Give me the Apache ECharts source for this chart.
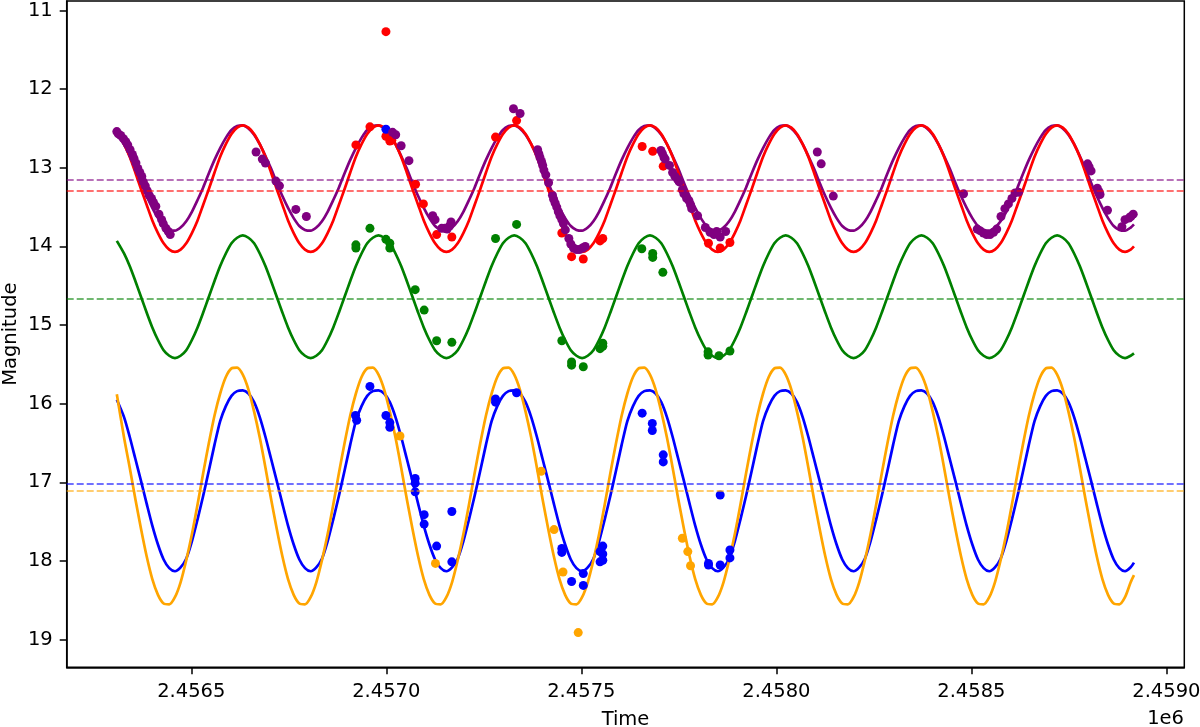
<!DOCTYPE html>
<html>
<head>
<meta charset="utf-8">
<script src="https://cdn.jsdelivr.net/npm/echarts@6/dist/echarts.min.js"></script>
<style>
  html, body { margin: 0; padding: 0; background: #fff; }
  #main { width: 1200px; height: 727px; }
</style>
</head>
<body>
<div id="main"></div>
<script>
const xTicks = [2456500, 2457000, 2457500, 2458000, 2458500, 2459000];
const yTicks = [11, 12, 13, 14, 15, 16, 17, 18, 19];

// model curves
const curveTimes = [
  2456309, 2456327.5, 2456342, 2456356.5, 2456371, 2456385.5, 2456400, 2456414.5, 2456429, 2456443.5, 2456458,
  2456472.5, 2456487, 2456501.5, 2456516, 2456530.5, 2456545, 2456559.5, 2456574, 2456588.5, 2456603, 2456617.5,
  2456632, 2456646.5, 2456661, 2456675.5, 2456690, 2456704.5, 2456719, 2456733.5, 2456748, 2456762.5, 2456777, 2456791.5,
  2456806, 2456820.5, 2456835, 2456849.5, 2456864, 2456878.5, 2456893, 2456907.5, 2456922, 2456936.5, 2456951, 2456965.5,
  2456980, 2456994.5, 2457009, 2457023.5, 2457038, 2457052.5, 2457067, 2457081.5, 2457096, 2457110.5, 2457125, 2457139.5,
  2457154, 2457168.5, 2457183, 2457197.5, 2457212, 2457226.5, 2457241, 2457255.5, 2457270, 2457284.5, 2457299, 2457313.5,
  2457328, 2457342.5, 2457357, 2457371.5, 2457386, 2457400.5, 2457415, 2457429.5, 2457444, 2457458.5, 2457473, 2457487.5,
  2457502, 2457516.5, 2457531, 2457545.5, 2457560, 2457574.5, 2457589, 2457603.5, 2457618, 2457632.5, 2457647, 2457661.5,
  2457676, 2457690.5, 2457705, 2457719.5, 2457734, 2457748.5, 2457763, 2457777.5, 2457792, 2457806.5, 2457821, 2457835.5,
  2457850, 2457864.5, 2457879, 2457893.5, 2457908, 2457922.5, 2457937, 2457951.5, 2457966, 2457980.5, 2457995, 2458009.5,
  2458024, 2458038.5, 2458053, 2458067.5, 2458082, 2458096.5, 2458111, 2458125.5, 2458140, 2458154.5, 2458169, 2458183.5,
  2458198, 2458212.5, 2458227, 2458241.5, 2458256, 2458270.5, 2458285, 2458299.5, 2458314, 2458328.5, 2458343, 2458357.5,
  2458372, 2458386.5, 2458401, 2458415.5, 2458430, 2458444.5, 2458459, 2458473.5, 2458488, 2458502.5, 2458517, 2458531.5,
  2458546, 2458560.5, 2458575, 2458589.5, 2458604, 2458618.5, 2458633, 2458647.5, 2458662, 2458676.5, 2458691, 2458705.5,
  2458720, 2458734.5, 2458749, 2458763.5, 2458778, 2458792.5, 2458807, 2458821.5, 2458836, 2458850.5, 2458865, 2458879.5,
  2458894, 2458908.5, 2458917
];
const redCurve = [
  12.54, 12.70, 12.86, 13.06, 13.27, 13.47, 13.67, 13.83, 13.96, 14.04, 14.07, 14.04, 13.96, 13.83, 13.67, 13.47, 13.27, 13.06, 12.86, 12.70, 12.57, 12.49,
  12.46, 12.49, 12.57, 12.70, 12.86, 13.06, 13.27, 13.47, 13.67, 13.83, 13.96, 14.04, 14.07, 14.04, 13.96, 13.83, 13.67, 13.47, 13.27, 13.06, 12.86, 12.70, 12.57, 12.49,
  12.46, 12.49, 12.57, 12.70, 12.86, 13.06, 13.27, 13.47, 13.67, 13.83, 13.96, 14.04, 14.07, 14.04, 13.96, 13.83, 13.67, 13.47, 13.27, 13.06, 12.86, 12.70, 12.57, 12.49,
  12.46, 12.49, 12.57, 12.70, 12.86, 13.06, 13.27, 13.47, 13.67, 13.83, 13.96, 14.04, 14.07, 14.04, 13.96, 13.83, 13.67, 13.47, 13.27, 13.06, 12.86, 12.70, 12.57, 12.49,
  12.46, 12.49, 12.57, 12.70, 12.86, 13.06, 13.27, 13.47, 13.67, 13.83, 13.96, 14.04, 14.07, 14.04, 13.96, 13.83, 13.67, 13.47, 13.27, 13.06, 12.86, 12.70, 12.57, 12.49,
  12.46, 12.49, 12.57, 12.70, 12.86, 13.06, 13.27, 13.47, 13.67, 13.83, 13.96, 14.04, 14.07, 14.04, 13.96, 13.83, 13.67, 13.47, 13.27, 13.06, 12.86, 12.70, 12.57, 12.49,
  12.46, 12.49, 12.57, 12.70, 12.86, 13.06, 13.27, 13.47, 13.67, 13.83, 13.96, 14.04, 14.07, 14.04, 13.96, 13.83, 13.67, 13.47, 13.27, 13.06, 12.86, 12.70, 12.57, 12.49,
  12.46, 12.49, 12.57, 12.70, 12.86, 13.06, 13.27, 13.47, 13.67, 13.83, 13.96, 14.04, 14.07, 14.04, 14.00
];
const purpleCurve = [
  12.54, 12.70, 12.85, 13.01, 13.19, 13.36, 13.51, 13.64, 13.74, 13.79, 13.80, 13.76, 13.68, 13.56, 13.41, 13.25, 13.07, 12.90, 12.75, 12.62, 12.52, 12.47,
  12.46, 12.50, 12.58, 12.70, 12.85, 13.01, 13.19, 13.36, 13.51, 13.64, 13.74, 13.79, 13.80, 13.76, 13.68, 13.56, 13.41, 13.25, 13.07, 12.90, 12.75, 12.62, 12.52, 12.47,
  12.46, 12.50, 12.58, 12.70, 12.85, 13.01, 13.19, 13.36, 13.51, 13.64, 13.74, 13.79, 13.80, 13.76, 13.68, 13.56, 13.41, 13.25, 13.07, 12.90, 12.75, 12.62, 12.52, 12.47,
  12.46, 12.50, 12.58, 12.70, 12.85, 13.01, 13.19, 13.36, 13.51, 13.64, 13.74, 13.79, 13.80, 13.76, 13.68, 13.56, 13.41, 13.25, 13.07, 12.90, 12.75, 12.62, 12.52, 12.47,
  12.46, 12.50, 12.58, 12.70, 12.85, 13.01, 13.19, 13.36, 13.51, 13.64, 13.74, 13.79, 13.80, 13.76, 13.68, 13.56, 13.41, 13.25, 13.07, 12.90, 12.75, 12.62, 12.52, 12.47,
  12.46, 12.50, 12.58, 12.70, 12.85, 13.01, 13.19, 13.36, 13.51, 13.64, 13.74, 13.79, 13.80, 13.76, 13.68, 13.56, 13.41, 13.25, 13.07, 12.90, 12.75, 12.62, 12.52, 12.47,
  12.46, 12.50, 12.58, 12.70, 12.85, 13.01, 13.19, 13.36, 13.51, 13.64, 13.74, 13.79, 13.80, 13.76, 13.68, 13.56, 13.41, 13.25, 13.07, 12.90, 12.75, 12.62, 12.52, 12.47,
  12.46, 12.50, 12.58, 12.70, 12.85, 13.01, 13.19, 13.36, 13.51, 13.64, 13.74, 13.79, 13.80, 13.76, 13.72
];
const greenCurve = [
  13.93, 14.09, 14.25, 14.44, 14.64, 14.84, 15.03, 15.19, 15.32, 15.39, 15.42, 15.39, 15.32, 15.19, 15.03, 14.84, 14.64, 14.44, 14.25, 14.09, 13.96, 13.89,
  13.86, 13.89, 13.96, 14.09, 14.25, 14.44, 14.64, 14.84, 15.03, 15.19, 15.32, 15.39, 15.42, 15.39, 15.32, 15.19, 15.03, 14.84, 14.64, 14.44, 14.25, 14.09, 13.96, 13.89,
  13.86, 13.89, 13.96, 14.09, 14.25, 14.44, 14.64, 14.84, 15.03, 15.19, 15.32, 15.39, 15.42, 15.39, 15.32, 15.19, 15.03, 14.84, 14.64, 14.44, 14.25, 14.09, 13.96, 13.89,
  13.86, 13.89, 13.96, 14.09, 14.25, 14.44, 14.64, 14.84, 15.03, 15.19, 15.32, 15.39, 15.42, 15.39, 15.32, 15.19, 15.03, 14.84, 14.64, 14.44, 14.25, 14.09, 13.96, 13.89,
  13.86, 13.89, 13.96, 14.09, 14.25, 14.44, 14.64, 14.84, 15.03, 15.19, 15.32, 15.39, 15.42, 15.39, 15.32, 15.19, 15.03, 14.84, 14.64, 14.44, 14.25, 14.09, 13.96, 13.89,
  13.86, 13.89, 13.96, 14.09, 14.25, 14.44, 14.64, 14.84, 15.03, 15.19, 15.32, 15.39, 15.42, 15.39, 15.32, 15.19, 15.03, 14.84, 14.64, 14.44, 14.25, 14.09, 13.96, 13.89,
  13.86, 13.89, 13.96, 14.09, 14.25, 14.44, 14.64, 14.84, 15.03, 15.19, 15.32, 15.39, 15.42, 15.39, 15.32, 15.19, 15.03, 14.84, 14.64, 14.44, 14.25, 14.09, 13.96, 13.89,
  13.86, 13.89, 13.96, 14.09, 14.25, 14.44, 14.64, 14.84, 15.03, 15.19, 15.32, 15.39, 15.42, 15.39, 15.36
];
const blueCurve = [
  15.95, 16.17, 16.42, 16.70, 16.98, 17.27, 17.55, 17.79, 17.98, 18.09, 18.13, 18.08, 17.97, 17.75, 17.47, 17.17, 16.85, 16.52, 16.22, 16.03, 15.90, 15.84,
  15.83, 15.87, 15.98, 16.17, 16.42, 16.70, 16.98, 17.27, 17.55, 17.79, 17.98, 18.09, 18.13, 18.08, 17.97, 17.75, 17.47, 17.17, 16.85, 16.52, 16.22, 16.03, 15.90, 15.84,
  15.83, 15.87, 15.98, 16.17, 16.42, 16.70, 16.98, 17.27, 17.55, 17.79, 17.98, 18.09, 18.13, 18.08, 17.97, 17.75, 17.47, 17.17, 16.85, 16.52, 16.22, 16.03, 15.90, 15.84,
  15.83, 15.87, 15.98, 16.17, 16.42, 16.70, 16.98, 17.27, 17.55, 17.79, 17.98, 18.09, 18.13, 18.08, 17.97, 17.75, 17.47, 17.17, 16.85, 16.52, 16.22, 16.03, 15.90, 15.84,
  15.83, 15.87, 15.98, 16.17, 16.42, 16.70, 16.98, 17.27, 17.55, 17.79, 17.98, 18.09, 18.13, 18.08, 17.97, 17.75, 17.47, 17.17, 16.85, 16.52, 16.22, 16.03, 15.90, 15.84,
  15.83, 15.87, 15.98, 16.17, 16.42, 16.70, 16.98, 17.27, 17.55, 17.79, 17.98, 18.09, 18.13, 18.08, 17.97, 17.75, 17.47, 17.17, 16.85, 16.52, 16.22, 16.03, 15.90, 15.84,
  15.83, 15.87, 15.98, 16.17, 16.42, 16.70, 16.98, 17.27, 17.55, 17.79, 17.98, 18.09, 18.13, 18.08, 17.97, 17.75, 17.47, 17.17, 16.85, 16.52, 16.22, 16.03, 15.90, 15.84,
  15.83, 15.87, 15.98, 16.17, 16.42, 16.70, 16.98, 17.27, 17.55, 17.79, 17.98, 18.09, 18.13, 18.08, 18.02
];
const orangeCurve = [
  15.88, 16.43, 16.81, 17.21, 17.59, 17.94, 18.23, 18.43, 18.54, 18.55, 18.46, 18.27, 17.99, 17.66, 17.28, 16.88, 16.50, 16.15, 15.87, 15.66, 15.55, 15.54,
  15.63, 15.82, 16.10, 16.43, 16.81, 17.21, 17.59, 17.94, 18.23, 18.43, 18.54, 18.55, 18.46, 18.27, 17.99, 17.66, 17.28, 16.88, 16.50, 16.15, 15.87, 15.66, 15.55, 15.54,
  15.63, 15.82, 16.10, 16.43, 16.81, 17.21, 17.59, 17.94, 18.23, 18.43, 18.54, 18.55, 18.46, 18.27, 17.99, 17.66, 17.28, 16.88, 16.50, 16.15, 15.87, 15.66, 15.55, 15.54,
  15.63, 15.82, 16.10, 16.43, 16.81, 17.21, 17.59, 17.94, 18.23, 18.43, 18.54, 18.55, 18.46, 18.27, 17.99, 17.66, 17.28, 16.88, 16.50, 16.15, 15.87, 15.66, 15.55, 15.54,
  15.63, 15.82, 16.10, 16.43, 16.81, 17.21, 17.59, 17.94, 18.23, 18.43, 18.54, 18.55, 18.46, 18.27, 17.99, 17.66, 17.28, 16.88, 16.50, 16.15, 15.87, 15.66, 15.55, 15.54,
  15.63, 15.82, 16.10, 16.43, 16.81, 17.21, 17.59, 17.94, 18.23, 18.43, 18.54, 18.55, 18.46, 18.27, 17.99, 17.66, 17.28, 16.88, 16.50, 16.15, 15.87, 15.66, 15.55, 15.54,
  15.63, 15.82, 16.10, 16.43, 16.81, 17.21, 17.59, 17.94, 18.23, 18.43, 18.54, 18.55, 18.46, 18.27, 17.99, 17.66, 17.28, 16.88, 16.50, 16.15, 15.87, 15.66, 15.55, 15.54,
  15.63, 15.82, 16.10, 16.43, 16.81, 17.21, 17.59, 17.94, 18.23, 18.43, 18.54, 18.55, 18.46, 18.27, 18.18
];

// mean magnitudes (dashed lines)
const purpleMean = 13.15;
const redMean = 13.29;
const greenMean = 14.67;
const blueMean = 17.02;
const orangeMean = 17.11;

// observations
const purpleTimes = [
  2456309, 2456313, 2456319, 2456326, 2456332, 2456337, 2456343, 2456349, 2456353, 2456358, 2456363, 2456368, 2456373,
  2456377, 2456382, 2456387, 2456392, 2456398, 2456403, 2456409, 2456417, 2456424, 2456428, 2456435, 2456441, 2456446,
  2456666, 2456682, 2456690, 2456717, 2456726, 2456768, 2456795,
  2457016, 2457024, 2457038, 2457058, 2457119, 2457125, 2457142, 2457150, 2457156, 2457162, 2457166,
  2457326, 2457343,
  2457388, 2457391, 2457394, 2457398, 2457401, 2457404, 2457409, 2457416, 2457426, 2457429, 2457433, 2457437, 2457441,
  2457445, 2457450, 2457454, 2457459, 2457468, 2457473, 2457480, 2457488, 2457495, 2457503, 2457510,
  2457704, 2457708, 2457712, 2457715, 2457726, 2457734, 2457740, 2457747, 2457751, 2457759, 2457763, 2457770, 2457776,
  2457780, 2457783, 2457798, 2457818, 2457830, 2457840, 2457847, 2457856, 2457870,
  2458105, 2458115, 2458146,
  2458480, 2458515, 2458522, 2458531, 2458539, 2458548, 2458557, 2458565, 2458576, 2458586, 2458595, 2458604, 2458612, 2458621,
  2458798, 2458802, 2458807, 2458823, 2458827, 2458830, 2458849, 2458886, 2458894, 2458904, 2458909, 2458915
];
const purpleMags = [
  12.54, 12.57, 12.59, 12.63, 12.67, 12.71, 12.77, 12.83, 12.88, 12.94, 13.01, 13.06, 13.11,
  13.18, 13.23, 13.29, 13.35, 13.39, 13.44, 13.49, 13.59, 13.66, 13.71, 13.77, 13.81, 13.85,
  12.80, 12.89, 12.94, 13.17, 13.23, 13.53, 13.62,
  12.55, 12.58, 12.72, 12.91, 13.61, 13.66, 13.77, 13.77, 13.78, 13.74, 13.69,
  12.25, 12.31,
  12.77, 12.82, 12.87, 12.92, 12.97, 13.03, 13.09, 13.19, 13.35, 13.40, 13.45, 13.50, 13.56,
  13.61, 13.66, 13.71, 13.79, 13.90, 13.97, 14.02, 14.04, 14.04, 14.02, 14.00,
  12.78, 12.82, 12.87, 12.89, 12.97, 13.06, 13.11, 13.15, 13.18, 13.28, 13.33, 13.39, 13.42,
  13.47, 13.52, 13.61, 13.76, 13.82, 13.85, 13.81, 13.88, 13.81,
  12.80, 12.95, 13.36,
  13.33, 13.78, 13.80, 13.83, 13.85, 13.85, 13.82, 13.78, 13.62, 13.52, 13.46, 13.39, 13.32, 13.31,
  12.95, 12.99, 13.04, 13.26, 13.30, 13.34, 13.54, 13.75, 13.66, 13.64, 13.62, 13.59
];
const redTimes = [
  2456999, 2456922, 2456958, 2456999, 2457009, 2457014, 2457075, 2457095, 2457129, 2457168,
  2457280, 2457334, 2457450, 2457475, 2457505, 2457548, 2457555,
  2457656, 2457683, 2457710, 2457826, 2457856, 2457881
];
const redMags = [
  11.27, 12.71, 12.48, 12.60, 12.66, 12.65, 13.21, 13.46, 13.85, 13.88,
  12.61, 12.40, 13.83, 14.13, 14.16, 13.93, 13.90,
  12.73, 12.79, 12.98, 13.96, 14.02, 13.95
];
const greenTimes = [
  2456922, 2456922, 2456958, 2456999, 2457009, 2457009, 2457074, 2457097, 2457129, 2457168,
  2457280, 2457334, 2457450, 2457475, 2457475, 2457505, 2457548, 2457555, 2457555,
  2457655, 2457683, 2457683, 2457709, 2457825, 2457825, 2457853, 2457881
];
const greenMags = [
  13.98, 14.02, 13.77, 13.91, 13.96, 14.02, 14.55, 14.81, 15.20, 15.22,
  13.90, 13.72, 15.20, 15.47, 15.51, 15.53, 15.30, 15.23, 15.27,
  14.03, 14.09, 14.14, 14.33, 15.34, 15.38, 15.39, 15.33
];
const blueTimes = [
  2456999, 2456921, 2456924, 2456958, 2456999, 2457009, 2457009, 2457074, 2457074, 2457074, 2457097, 2457097,
  2457129, 2457168, 2457168, 2457280, 2457280, 2457334, 2457450, 2457450, 2457475, 2457505, 2457505,
  2457548, 2457555, 2457555, 2457548, 2457555,
  2457656, 2457682, 2457682, 2457710, 2457710, 2457856, 2457826, 2457826, 2457856, 2457881, 2457881
];
const blueMags = [
  12.51, 16.15, 16.21, 15.78, 16.15, 16.24, 16.30, 16.95, 17.01, 17.12, 17.41, 17.53,
  17.81, 17.37, 18.01, 15.94, 15.98, 15.86, 17.84, 17.89, 18.26, 18.16, 18.31,
  17.88, 17.81, 17.91, 18.01, 17.99,
  16.12, 16.25, 16.34, 16.65, 16.74, 17.16, 18.03, 18.05, 18.05, 17.86, 17.96
];
const orangeTimes = [2457035, 2457126, 2457397, 2457430, 2457453, 2457492, 2457759, 2457773, 2457780];
const orangeMags = [16.41, 18.03, 16.86, 17.60, 18.14, 18.91, 17.71, 17.88, 18.06];

const zip = (xs, ys) => xs.map((x, i) => [x, ys[i]]);

const curve = (color, times, mags, mean) => ({
  type: 'line',
  data: zip(times, mags),
  smooth: 0.25,
  smoothConstraint: false,
  showSymbol: false,
  symbol: 'none',
  z: 2,
  lineStyle: { color: color, width: 2.7, join: 'round' },
  markLine: {
    silent: true,
    symbol: 'none',
    label: { show: false },
    lineStyle: { color: color, type: [7, 3], width: 1.7, opacity: 0.75 },
    data: [{ yAxis: mean }],
  },
});

const dots = (color, times, mags) => ({
  type: 'scatter',
  data: zip(times, mags),
  symbolSize: 9,
  z: 3,
  itemStyle: { color: color, opacity: 1 },
});

const font = 'DejaVu Sans';

const option = {
  animation: false,
  grid: {
    left: 66.7,
    right: 15.7,
    top: 1,
    bottom: 59.7,
    show: true,
    borderColor: '#000',
    borderWidth: 1.5,
    outerBoundsMode: 'none',
  },
  xAxis: {
    type: 'value',
    min: 2456180.5,
    max: 2459046,
    name: 'Time',
    nameLocation: 'middle',
    nameGap: 43,
    nameMoveOverlap: false,
    nameTextStyle: { color: '#000', fontFamily: font, fontSize: 19.5 },
    splitLine: { show: false },
    axisLine: { lineStyle: { color: '#000', width: 1.5 } },
    axisTick: { customValues: xTicks, length: 7, lineStyle: { color: '#000', width: 1.5 } },
    axisLabel: {
      customValues: xTicks,
      color: '#000',
      fontFamily: font,
      fontSize: 19.5,
      margin: 15,
      formatter: (v) => (v / 1e6).toFixed(4),
    },
  },
  yAxis: {
    type: 'value',
    inverse: true,
    min: 10.88,
    max: 19.351,
    name: 'Magnitude',
    nameLocation: 'middle',
    nameGap: 46,
    nameMoveOverlap: false,
    nameTextStyle: { color: '#000', fontFamily: font, fontSize: 19.5 },
    splitLine: { show: false },
    axisLine: { lineStyle: { color: '#000', width: 1.5 } },
    axisTick: { customValues: yTicks, length: 7, lineStyle: { color: '#000', width: 1.5 } },
    axisLabel: { customValues: yTicks, color: '#000', fontFamily: font, fontSize: 19.5, margin: 14 },
  },
  graphic: [
    {
      type: 'text',
      right: 16,
      top: 709,
      style: { text: '1e6', fill: '#000', font: '19.5px "DejaVu Sans"' },
    },
  ],
  series: [
    curve('#800080', curveTimes, purpleCurve, purpleMean),
    curve('#ff0000', curveTimes, redCurve, redMean),
    curve('#008000', curveTimes, greenCurve, greenMean),
    curve('#0000ff', curveTimes, blueCurve, blueMean),
    curve('#ffa500', curveTimes, orangeCurve, orangeMean),
    dots('#ff0000', redTimes, redMags),
    dots('#008000', greenTimes, greenMags),
    dots('#ffa500', orangeTimes, orangeMags),
    dots('#0000ff', blueTimes, blueMags),
    dots('#800080', purpleTimes, purpleMags),
  ],
};

const myChart = echarts.init(document.getElementById('main'));
myChart.setOption(option);
</script>
</body>
</html>
